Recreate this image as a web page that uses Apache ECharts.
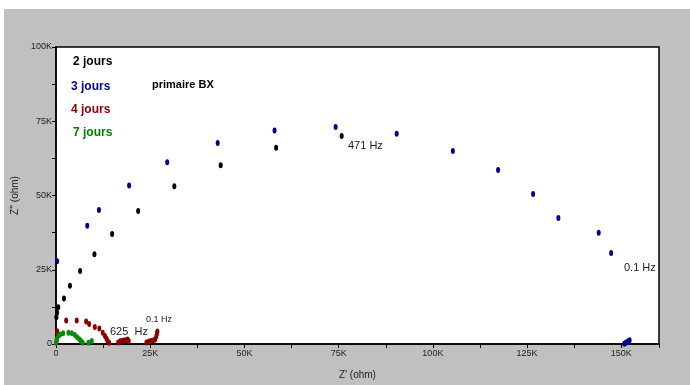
<!DOCTYPE html>
<html>
<head>
<meta charset="utf-8">
<script src="https://cdn.jsdelivr.net/npm/echarts@6/dist/echarts.min.js"></script>
<style>
  html, body { margin: 0; padding: 0; background: #fff; }
  .frame { position: absolute; left: 4px; top: 9px; width: 686px; height: 376px; background: #c0c0c0; }
  #chart { position: absolute; left: 0; top: 0; width: 690px; height: 385px; }
</style>
</head>
<body>
<div class="frame"></div>
<div id="chart"></div>
<script>
  // Nyquist data, values in K ohm [Z', Z'']
  const jours2 = [
    [0.1, 9.0], [0.3, 10.5], [0.6, 12.4], [2.1, 15.3], [3.7, 19.6], [6.4, 24.6],
    [10.2, 30.2], [14.9, 37.0], [21.8, 44.8], [31.4, 53.1], [43.7, 60.2],
    [58.4, 66.1], [75.8, 70.0]
  ]
  const jours3 = [
    [0.3, 27.9], [8.3, 39.8], [11.4, 45.1], [19.4, 53.4], [29.5, 61.2], [42.9, 67.7],
    [58.0, 71.9], [74.2, 73.1], [90.4, 70.8], [105.3, 65.0], [117.3, 58.6],
    [126.6, 50.5], [133.3, 42.4], [144.0, 37.5], [147.3, 30.6],
    [150.8, 0.1], [151.1, 0.3], [151.4, 0.5], [151.7, 0.8], [152.0, 1.0], [152.2, 1.3]
  ]
  const jours4 = [
    [0.2, 1.2], [0.3, 4.3], [2.7, 7.9], [5.5, 7.9], [8.0, 7.6], [8.8, 6.7], [10.3, 5.7],
    [11.5, 5.2], [12.4, 3.8], [13.0, 2.7], [13.4, 1.8], [13.7, 1.0], [14.1, 0.4],
    [16.5, 0.5], [17.0, 0.9], [17.5, 1.0], [18.0, 1.2], [18.5, 1.3], [19.0, 1.5], [19.3, 1.0],
    [24.0, 0.5], [24.6, 0.8], [25.2, 1.0], [25.8, 1.2], [26.3, 1.5], [26.6, 2.5],
    [26.8, 3.5], [26.9, 4.2]
  ]
  const jours7 = [
    [0.0, 0.4], [0.2, 1.6], [0.6, 2.7], [1.1, 3.2], [1.9, 3.6], [3.3, 3.8], [4.2, 3.6],
    [5.0, 3.0], [5.6, 2.3], [6.2, 1.6], [6.6, 1.0], [7.1, 0.4], [8.6, 0.4], [9.5, 1.0]
  ]
  const xTicks = ['0', '25K', '50K', '75K', '100K', '125K', '150K']
  const yTicks = ['0', '25K', '50K', '75K', '100K']

  const font = 'Liberation Sans, Arial, sans-serif'
  const axisCommon = {
    axisLine: { lineStyle: { color: '#000', width: 1.5 } },
    axisTick: { show: true, length: 4, lineStyle: { color: '#000' } },
    minorTick: { show: true, splitNumber: 2, length: 4, lineStyle: { color: '#000' } },
    splitLine: { show: false },
    axisLabel: { color: '#222', fontSize: 9, fontFamily: font }
  }

  function dots (name, data, color) {
    return {
      name: name,
      type: 'scatter',
      data: data,
      symbol: 'circle',
      symbolSize: [4, 6],
      itemStyle: { color: color, opacity: 1 },
      silent: true
    }
  }

  const chart = echarts.init(document.getElementById('chart'))
  chart.setOption({
    animation: false,
    backgroundColor: 'transparent',
    grid: {
      show: true,
      left: 56,
      right: 31,
      top: 47,
      bottom: 37,
      backgroundColor: '#fff',
      borderColor: '#000',
      borderWidth: 1.5
    },
    xAxis: Object.assign({}, axisCommon, {
      type: 'value',
      min: 0,
      max: 160,
      interval: 25,
      name: "Z' (ohm)",
      nameLocation: 'middle',
      nameGap: 26,
      nameTextStyle: { color: '#222', fontSize: 10, fontFamily: font },
      axisLabel: Object.assign({}, axisCommon.axisLabel, {
        margin: 5,
        showMaxLabel: false,
        formatter: v => xTicks[Math.round(v / 25)] || ''
      })
    }),
    yAxis: Object.assign({}, axisCommon, {
      type: 'value',
      min: 0,
      max: 100,
      interval: 25,
      name: "Z'' (ohm)",
      nameLocation: 'middle',
      nameGap: 36,
      nameTextStyle: { color: '#222', fontSize: 10, fontFamily: font },
      axisLabel: Object.assign({}, axisCommon.axisLabel, {
        margin: 4,
        formatter: v => yTicks[Math.round(v / 25)] || ''
      })
    }),
    graphic: [
      { type: 'text', left: 73, top: 56, style: { text: '2 jours', fill: '#000', font: 'bold 12px ' + font } },
      { type: 'text', left: 71, top: 81, style: { text: '3 jours', fill: '#00008b', font: 'bold 12px ' + font } },
      { type: 'text', left: 71, top: 104, style: { text: '4 jours', fill: '#8b0000', font: 'bold 12px ' + font } },
      { type: 'text', left: 73, top: 127, style: { text: '7 jours', fill: '#008000', font: 'bold 12px ' + font } },
      { type: 'text', left: 152, top: 79, style: { text: 'primaire BX', fill: '#000', font: 'bold 11px ' + font } },
      { type: 'text', left: 348, top: 140, style: { text: '471 Hz', fill: '#222', font: '11px ' + font } },
      { type: 'text', left: 110, top: 326, style: { text: '625  Hz', fill: '#222', font: '11px ' + font } },
      { type: 'text', left: 146, top: 315, style: { text: '0.1 Hz', fill: '#222', font: '9px ' + font } },
      {
        type: 'text', left: 623, top: 261, z: 100,
        style: { text: '0.1 Hz', fill: '#222', font: '11px ' + font, backgroundColor: '#fff', padding: [1, 2, 1, 1] }
      }
    ],
    series: [
      dots('2 jours', jours2, '#000'),
      dots('3 jours', jours3, '#00008b'),
      dots('4 jours', jours4, '#8b0000'),
      dots('7 jours', jours7, '#0a8a0a')
    ]
  })
</script>
</body>
</html>
